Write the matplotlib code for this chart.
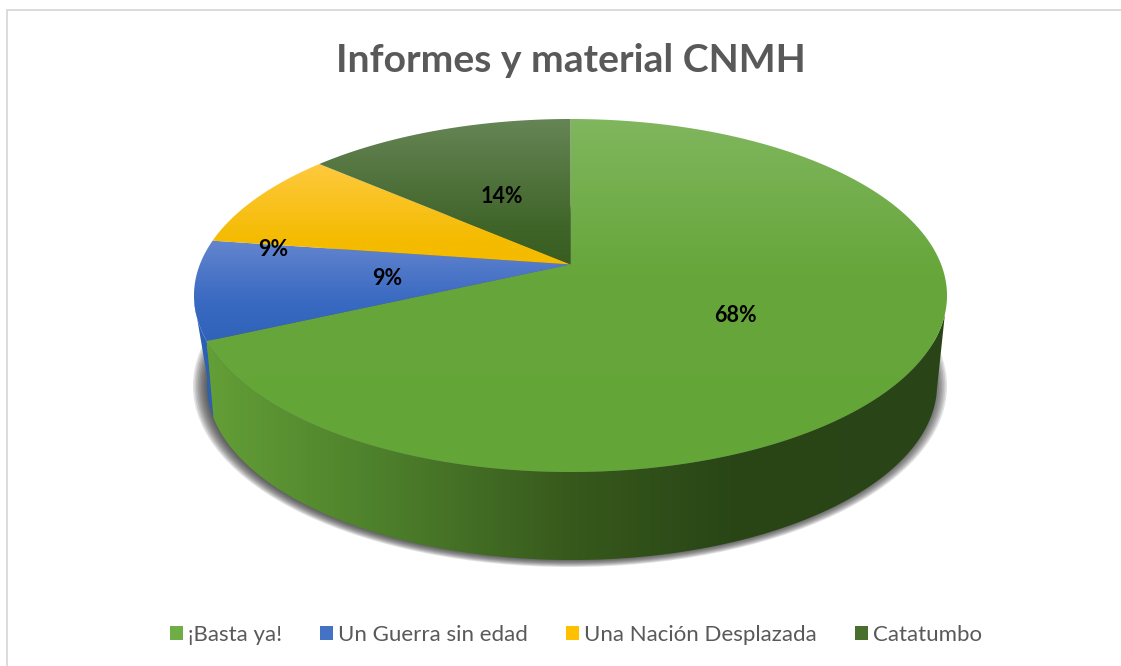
import numpy as np
import matplotlib
matplotlib.use("Agg")
import matplotlib.pyplot as plt
from matplotlib.colors import LinearSegmentedColormap, to_rgb
from matplotlib.patches import Polygon, Ellipse, Patch

plt.rcParams['font.family'] = ['Lato', 'DejaVu Sans']

title = "Informes y material CNMH"
categories = ["¡Basta ya!", "Un Guerra sin edad", "Una Nación Desplazada", "Catatumbo"]
values = [15, 2, 2, 3]
labels = ["68%", "9%", "9%", "14%"]
legend_colors = ["#6fae46", "#4472c4", "#ffc000", "#48702c"]

# style: vertical gradient stops of each top face (pixel y, colour)
face_stops = [
    [(119, "#80b65e"), (275, "#66a63a"), (480, "#64a538")],
    [(238, "#6586cf"), (300, "#3a6ac2"), (345, "#2f62b8")],
    [(160, "#ffca42"), (240, "#f4bb00"), (270, "#f4bb00")],
    [(119, "#668555"), (225, "#40652a"), (270, "#385c1e")],
]
wall_stops = [(205, "#639f37"), (400, "#4b7c2a"), (570, "#37591c"), (730, "#294616"), (950, "#2a4417")]
label_xy = [(735, 315.5), (387, 278.5), (273, 249), (502, 196.5)]

W, H = 1121, 666
fig = plt.figure(figsize=(W / 100, H / 100), dpi=100, facecolor="white")
ax = fig.add_axes([0, 0, 1, 1])
ax.axis("off")


def rim(theta, cx, cy, a, b, k):
    """Point on a perspective-projected disc rim; theta runs clockwise from 12 o'clock."""
    u, v = np.sin(theta), np.cos(theta)
    d = 1 + k * v
    return cx + a * u * np.sqrt(1 - k * k) / d, cy - b * (v + k) / d


TOP = dict(cx=570.5, cy=295.5, a=376.5, b=176.5, k=0.176)
BOT = dict(cx=572, cy=385, a=365, b=175, k=0.247)
apex = (TOP["cx"], TOP["cy"] - TOP["b"] * TOP["k"])
WALL_START = np.radians(106)
WALL_END = np.radians(258)


def gradient(stops, vertical, extent, clip, z):
    lo, hi = stops[0][0], stops[-1][0]
    cmap = LinearSegmentedColormap.from_list(
        "g", [((p - lo) / (hi - lo), to_rgb(c)) for p, c in stops], N=256)
    arr = np.linspace(0, 1, 256)
    arr = arr[:, None] if vertical else arr[None, :]
    im = ax.imshow(arr, cmap=cmap, extent=extent, aspect="auto", zorder=z,
                   interpolation="bilinear", origin="upper")
    patch = Polygon(clip, closed=True, transform=ax.transData, fc="none", ec="none")
    ax.add_patch(patch)
    im.set_clip_path(patch)


# drop shadow under the disc: stacked translucent ellipses
for i in range(9):
    ax.add_patch(Ellipse((570, 386), 2 * (377 - i * 1.6), 2 * (181 - i * 0.9),
                         fc="#303030", ec="none", alpha=0.14, zorder=1))

fracs = np.cumsum([0] + values) / sum(values) * 2 * np.pi

# side wall of the first slice and the blue sliver at the left
t = np.linspace(WALL_START, fracs[1], 300)
tx, ty = rim(t, **TOP)
bx, by = rim(t, **BOT)
wall = np.r_[np.c_[tx, ty], np.c_[bx, by][::-1]]
gradient(wall_stops, False, (wall_stops[0][0], wall_stops[-1][0], 600, 200), wall, 2)

t = np.linspace(fracs[1], WALL_END, 60)
tx, ty = rim(t, **TOP)
bx, by = rim(t, **BOT)
ax.add_patch(Polygon(np.r_[np.c_[tx, ty], np.c_[bx, by][::-1]], closed=True,
                     fc="#2e60b2", ec="none", zorder=1.5))

# top faces
for i in range(len(values)):
    t = np.linspace(fracs[i], fracs[i + 1], 300)
    x, y = rim(t, **TOP)
    poly = np.r_[[apex], np.c_[x, y]]
    st = face_stops[i]
    gradient(st, True, (150, 1000, st[-1][0], st[0][0]), poly, 3 + i * 0.1)

for txt, (x, y) in zip(labels, label_xy):
    ax.text(x, y, txt, ha="center", va="center", fontsize=15.5, fontweight="bold",
            color="black", zorder=6)

ax.text(570.5, 60, title, ha="center", va="center", fontsize=28.2, fontweight="bold",
        color="#595959", zorder=6)

# chart frame
ax.plot([6.5, 6.5, W], [H, 9.5, 9.5], color="#d9d9d9", lw=1.3, zorder=0,
        solid_joinstyle="miter")

handles = [Patch(fc=c, ec="none", label=n) for c, n in zip(legend_colors, categories)]
ax.legend(handles=handles, ncol=4, loc="center", bbox_to_anchor=(576 / W, 1 - 635 / H),
          frameon=False, fontsize=16, labelcolor="#595959", handlelength=0.6,
          handleheight=0.6, handletextpad=0.22, columnspacing=1.7, borderpad=0)

ax.set_xlim(0, W)
ax.set_ylim(H, 0)
fig.savefig("out.png", dpi=100, facecolor="white")
